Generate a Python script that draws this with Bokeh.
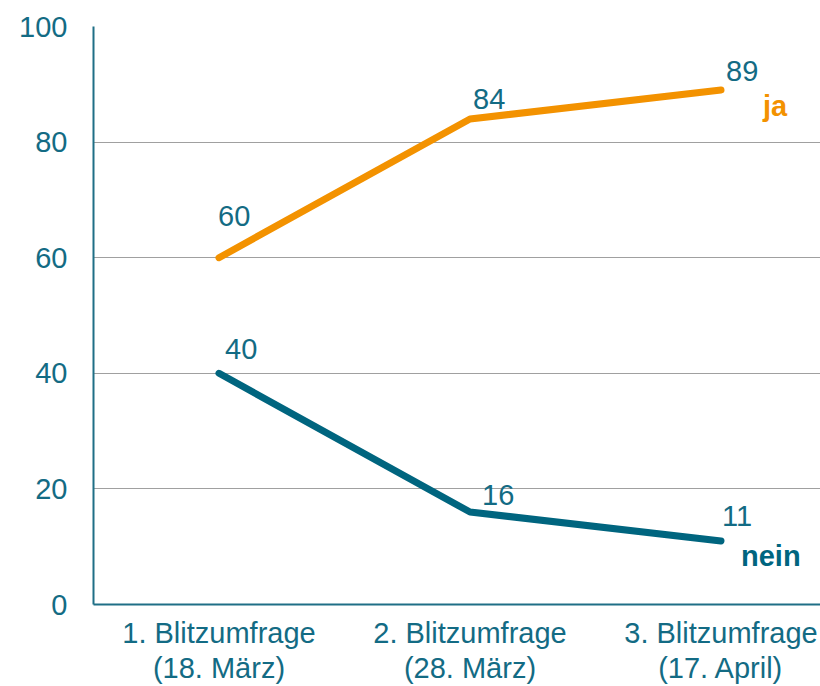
import numpy as np
from bokeh.plotting import figure
from bokeh.models import ColumnDataSource, FixedTicker, Range1d
from bokeh.core.properties import value
from bokeh.embed import file_html
from bokeh.resources import INLINE

# ---- data ----
categories = ["1. Blitzumfrage\n(18. März)", "2. Blitzumfrage\n(28. März)", "3. Blitzumfrage\n(17. April)"]
ja = [60, 84, 89]
nein = [40, 16, 11]
y_ticks = [0, 20, 40, 60, 80, 100]
series_names = ["ja", "nein"]

# ---- styles / label placement ----
ORANGE = "#f39200"
TEAL_LINE = "#00657f"
TEAL_TEXT = "#136b84"
GRID = "#a0a0a0"
FONT = "Liberation Sans"
FS = "29px"
BASE_FIX = -9
ja_dx = [-1, 3, 5]
ja_dy = [d + BASE_FIX for d in [-33, -11, -10]]
nein_dx = [6, 12, 1]
nein_dy = [d + BASE_FIX for d in [-15, -8, -16]]

x = list(np.arange(len(categories)) + 0.5)

p = figure(width=820, height=686, output_backend="svg", toolbar_location=None,
           x_range=Range1d(0, 727 / 251), y_range=Range1d(0, 100),
           min_border_left=93, min_border_right=0, min_border_top=26, min_border_bottom=79)
p.outline_line_color = None
p.background_fill_color = "white"
p.border_fill_color = "white"

# axes
p.yaxis.ticker = FixedTicker(ticks=y_ticks)
p.xaxis.ticker = FixedTicker(ticks=x)
p.xaxis.major_label_overrides = {xi: c for xi, c in zip(x, categories)}
for ax in (p.xaxis[0], p.yaxis[0]):
    ax.axis_line_color = "#1f6f86"
    ax.axis_line_width = 2
    ax.major_tick_line_color = None
    ax.minor_tick_line_color = None
    ax.major_tick_out = 0
    ax.major_label_text_font = FONT
    ax.major_label_text_font_size = FS
    ax.major_label_text_color = TEAL_TEXT
p.yaxis.major_label_standoff = 26
p.xaxis.major_label_standoff = 12
p.xaxis.major_label_text_line_height = 1.1

p.xgrid.grid_line_color = None
p.ygrid.ticker = FixedTicker(ticks=y_ticks[1:])
p.ygrid.grid_line_color = GRID
p.ygrid.grid_line_width = 1.2

# lines
p.line(x, ja, line_color=ORANGE, line_width=7, line_cap="round", line_join="round")
p.line(x, nein, line_color=TEAL_LINE, line_width=7, line_cap="round", line_join="round")

# value labels
src_ja = ColumnDataSource(dict(x=x, y=ja, t=[str(v) for v in ja], dx=ja_dx, dy=ja_dy))
src_nein = ColumnDataSource(dict(x=x, y=nein, t=[str(v) for v in nein], dx=nein_dx, dy=nein_dy))
for src in (src_ja, src_nein):
    p.text(x="x", y="y", text="t", x_offset="dx", y_offset="dy", source=src,
           text_font=value(FONT), text_font_size=FS, text_color=TEAL_TEXT,
           text_align="left", text_baseline="alphabetic")

# series names
p.text(x=[x[-1]], y=[ja[-1]], text=[series_names[0]], x_offset=42, y_offset=25 + BASE_FIX,
       text_font=value(FONT), text_font_size=FS, text_font_style="bold",
       text_color=ORANGE, text_align="left", text_baseline="alphabetic")
p.text(x=[x[-1]], y=[nein[-1]], text=[series_names[1]], x_offset=20, y_offset=24 + BASE_FIX,
       text_font=value(FONT), text_font_size=FS, text_font_style="bold",
       text_color=TEAL_LINE, text_align="left", text_baseline="alphabetic")

open("out.html", "w").write(file_html(p, INLINE))
